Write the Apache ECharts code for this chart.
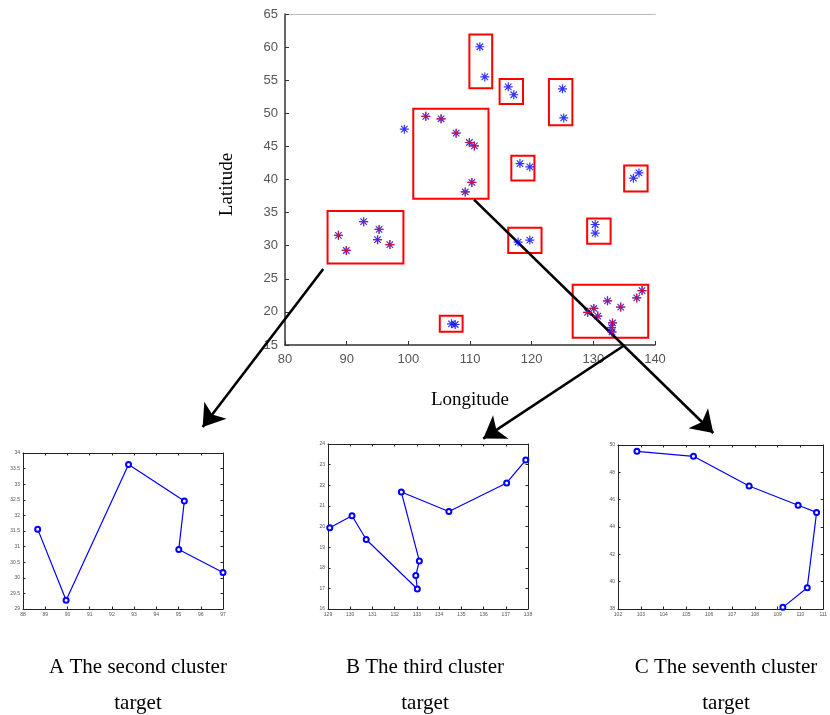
<!DOCTYPE html>
<html>
<head>
<meta charset="utf-8">
<script src="https://cdn.jsdelivr.net/npm/echarts@6.0.0/dist/echarts.min.js"></script>
<style>
  html, body { margin: 0; padding: 0; background: #fff; }
  #chart { width: 830px; height: 715px; }
</style>
</head>
<body>
<div id="chart"></div>
<script>
'use strict';
// Cluster targets: main lon/lat scatter with cluster boxes, plus three zoomed cluster tracks.

// ── data ───────────────────────────────────────────────────────────────
// cluster 2 (A)
const c2Lon = [88.66, 89.94, 92.75, 95.26, 95.01, 97.0];
const c2Lat = [31.56, 29.28, 33.63, 32.46, 30.91, 30.17];
// cluster 3 (B)
const c3Lon = [129.08, 130.08, 130.72, 133.02, 132.95, 133.11, 132.30, 134.44, 137.04, 137.9];
const c3Lat = [19.94, 20.52, 19.37, 16.97, 17.62, 18.33, 21.67, 20.73, 22.11, 23.22];
// cluster 7 (C)
const c7Lon = [102.83, 105.31, 107.75, 109.9, 110.71, 110.30, 109.23];
const c7Lat = [49.54, 49.17, 47.0, 45.59, 45.07, 39.56, 38.12];
// remaining targets
const otherLon = [111.6, 112.4, 116.2, 117.1, 125.0, 125.2, 99.35, 118.1, 119.7, 136.5, 137.4, 130.3, 130.3, 117.8, 119.7, 107.0, 107.6];
const otherLat = [60.05, 55.5, 54.0, 52.8, 53.7, 49.3, 47.6, 42.4, 41.9, 40.2, 41.0, 33.2, 31.9, 30.55, 30.85, 18.2, 18.1];
// cluster boxes [lonMin, latMin, lonMax, latMax]
const boxes = [
  [109.9, 53.8, 113.6, 61.9],
  [114.8, 51.4, 118.6, 55.2],
  [122.8, 48.2, 126.6, 55.2],
  [100.8, 37.1, 113.0, 50.7],
  [116.7, 39.85, 120.45, 43.6],
  [135.0, 38.2, 138.8, 42.1],
  [86.9, 27.3, 99.2, 35.25],
  [129.0, 30.3, 132.8, 34.1],
  [116.2, 28.9, 121.6, 32.7],
  [105.1, 17.0, 108.8, 19.4],
  [126.65, 16.1, 138.9, 24.1]
];
// pointer arrows, in main-axis coordinates
const arrowFrom = [[86.2, 26.47], [134.86, 14.85], [110.65, 36.97]];
const arrowTo = [[66.65, 2.62], [112.15, 0.86], [149.45, 1.71]];
const captions = ['A The second cluster\ntarget', 'B The third cluster\ntarget', 'C The seventh cluster\ntarget'];

// ── style ──────────────────────────────────────────────────────────────
const SANS = "'Liberation Sans', Arial, sans-serif";
const SERIF = "'Liberation Serif', 'Times New Roman', serif";
const BLUE = '#0000ff', RED = '#ff0000';
const ASTER = 'path://M0,-5L0,5M-5,0L5,0M-3.6,-3.6L3.6,3.6M-3.6,3.6L3.6,-3.6';
const PLUS = 'path://M0,-5L0,5M-5,0L5,0';

function zip(a, b) { return a.map((v, i) => [v, b[i]]); }

// small inset axes: bottom/left with labels, top/right bare (box on)
function subX(gi, min, max, withLabels) {
  return {
    gridIndex: gi, type: 'value', min, max, interval: 1,
    position: withLabels ? 'bottom' : 'top',
    axisLine: { onZero: false, lineStyle: { color: '#222', width: 1 } },
    axisTick: { inside: true, length: 2.5, lineStyle: { color: '#222' } },
    axisLabel: { show: withLabels, fontSize: 5, color: '#555', fontFamily: SANS, margin: 3 },
    splitLine: { show: false }
  };
}
function subY(gi, min, max, iv, withLabels) {
  return {
    gridIndex: gi, type: 'value', min, max, interval: iv,
    position: withLabels ? 'left' : 'right',
    axisLine: { onZero: false, lineStyle: { color: '#222', width: 1 } },
    axisTick: { inside: true, length: 2.5, lineStyle: { color: '#222' } },
    axisLabel: { show: withLabels, fontSize: 5, color: '#555', fontFamily: SANS, margin: 3 },
    splitLine: { show: false }
  };
}
function track(xi, yi, lon, lat) {
  return {
    type: 'line', xAxisIndex: xi, yAxisIndex: yi, data: zip(lon, lat),
    symbol: 'emptyCircle', symbolSize: 5, showSymbol: true,
    lineStyle: { color: BLUE, width: 1.2 },
    itemStyle: { color: BLUE, borderColor: BLUE, borderWidth: 1.4 },
    animation: false, silent: true
  };
}

const clusterAll = zip(c2Lon, c2Lat).concat(zip(c3Lon, c3Lat), zip(c7Lon, c7Lat));

const option = {
  animation: false,
  grid: [
    { left: 285, top: 14, width: 370, height: 331 },
    { left: 23, top: 453, width: 200, height: 156 },
    { left: 328, top: 444, width: 200, height: 165 },
    { left: 618, top: 445, width: 207, height: 164 }
  ],
  xAxis: [
    {
      gridIndex: 0, type: 'value', min: 80, max: 140, interval: 10,
      name: 'Longitude', nameLocation: 'middle', nameGap: 46,
      nameTextStyle: { fontFamily: SERIF, fontSize: 19, color: '#000' },
      axisLine: { onZero: false, lineStyle: { color: '#333', width: 1.5 } },
      axisTick: { inside: true, length: 4, lineStyle: { color: '#333' } },
      axisLabel: { fontSize: 13, color: '#555', fontFamily: SANS, margin: 8 },
      splitLine: { show: false }
    },
    {
      gridIndex: 0, type: 'value', min: 80, max: 140, position: 'top',
      axisLine: { onZero: false, lineStyle: { color: '#bbb', width: 1.2 } },
      axisTick: { show: false }, axisLabel: { show: false }, splitLine: { show: false }
    },
    subX(1, 88, 97, true), subX(1, 88, 97, false),
    subX(2, 129, 138, true), subX(2, 129, 138, false),
    subX(3, 102, 111, true), subX(3, 102, 111, false)
  ],
  yAxis: [
    {
      gridIndex: 0, type: 'value', min: 15, max: 65, interval: 5,
      name: 'Latitude', nameLocation: 'middle', nameGap: 48, nameRotate: 90,
      nameTextStyle: { fontFamily: SERIF, fontSize: 19, color: '#000', padding: [0, 0, 0, -10] },
      axisLine: { onZero: false, lineStyle: { color: '#333', width: 1.5 } },
      axisTick: { inside: true, length: 4, lineStyle: { color: '#333' } },
      axisLabel: { fontSize: 13, color: '#555', fontFamily: SANS, margin: 7 },
      splitLine: { show: false }
    },
    subY(1, 29, 34, 0.5, true), subY(1, 29, 34, 0.5, false),
    subY(2, 16, 24, 1, true), subY(2, 16, 24, 1, false),
    subY(3, 38, 50, 2, true), subY(3, 38, 50, 2, false)
  ],
  series: [
    {
      type: 'custom', xAxisIndex: 0, yAxisIndex: 0, data: boxes, silent: true,
      renderItem: (params, api) => {
        const p0 = api.coord([api.value(0), api.value(3)]);
        const p1 = api.coord([api.value(2), api.value(1)]);
        return {
          type: 'rect',
          shape: { x: p0[0], y: p0[1], width: p1[0] - p0[0], height: p1[1] - p0[1] },
          style: { fill: 'none', stroke: RED, lineWidth: 2 }
        };
      },
      encode: { x: [0, 2], y: [1, 3] }
    },
    {
      type: 'scatter', xAxisIndex: 0, yAxisIndex: 0, data: zip(otherLon, otherLat),
      symbol: ASTER, symbolSize: 9, silent: true,
      itemStyle: { color: 'transparent', borderColor: BLUE, borderWidth: 1.2 }
    },
    {
      type: 'scatter', xAxisIndex: 0, yAxisIndex: 0, data: clusterAll,
      symbol: ASTER, symbolSize: 9, silent: true,
      itemStyle: { color: 'transparent', borderColor: BLUE, borderWidth: 1.2, opacity: 0.8 }
    },
    {
      type: 'scatter', xAxisIndex: 0, yAxisIndex: 0, data: clusterAll,
      symbol: PLUS, symbolSize: 9, silent: true,
      itemStyle: { color: 'transparent', borderColor: RED, borderWidth: 1.2, opacity: 0.75 }
    },
    {
      type: 'lines', coordinateSystem: 'cartesian2d', xAxisIndex: 0, yAxisIndex: 0, clip: false,
      data: arrowFrom.map((f, i) => ({ coords: [f, arrowTo[i]] })),
      symbol: ['none', 'arrow'], symbolSize: [0, 21], silent: true,
      lineStyle: { color: '#000', width: 2.6, opacity: 1 }
    },
    track(2, 1, c2Lon, c2Lat),
    track(4, 3, c3Lon, c3Lat),
    track(6, 5, c7Lon, c7Lat)
  ],
  graphic: [
    { type: 'text', x: 138, y: 649, style: { text: captions[0], textAlign: 'center', font: '21px ' + SERIF, lineHeight: 36, fill: '#000' } },
    { type: 'text', x: 425, y: 649, style: { text: captions[1], textAlign: 'center', font: '21px ' + SERIF, lineHeight: 36, fill: '#000' } },
    { type: 'text', x: 726, y: 649, style: { text: captions[2], textAlign: 'center', font: '21px ' + SERIF, lineHeight: 36, fill: '#000' } }
  ]
};

const chart = echarts.init(document.getElementById('chart'), null, { renderer: 'canvas' });
chart.setOption(option);
window.addEventListener('resize', () => chart.resize());
</script>
</body>
</html>
